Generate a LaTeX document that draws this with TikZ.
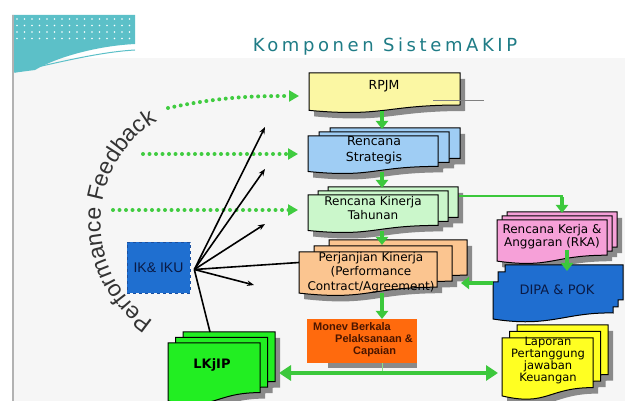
\documentclass[tikz,border=0pt]{standalone}
\usepackage{fontspec}
\setmainfont{Liberation Sans}
\newfontfamily\comic{DejaVu Sans}
\newfontfamily\titlefont[LetterSpace=20]{DejaVu Sans}
\usetikzlibrary{arrows.meta,decorations.text,calc}
\definecolor{rpjmyellow}{HTML}{FBF7A3}
\definecolor{rsblue}{HTML}{9FCDF4}
\definecolor{rktgreen}{HTML}{CBF7CB}
\definecolor{pkorange}{HTML}{FBC590}
\definecolor{monevorange}{HTML}{FF6A0D}
\definecolor{rkapink}{HTML}{F6A0D8}
\definecolor{dipablue}{HTML}{1F6ED0}
\definecolor{lapyellow}{HTML}{FFFF22}
\definecolor{lkgreen}{HTML}{22EE22}
\definecolor{ikblue}{HTML}{1F6FD0}
\definecolor{ikedge}{HTML}{1A4FA0}
\definecolor{dotgreen}{HTML}{40CC40}
\definecolor{arrgreen}{HTML}{3CC83C}
\definecolor{shadowgray}{HTML}{8A8A8A}
\definecolor{titleteal}{HTML}{1F7C86}
\definecolor{fbgray}{HTML}{333333}
\definecolor{navy}{HTML}{0A1A45}
\definecolor{monevtext}{HTML}{4A1500}
\definecolor{bggray}{HTML}{F6F6F6}
\definecolor{cornerteal}{HTML}{5CC0C8}
\newcommand\docfill[5]{\path[#5] ({#1},{#2}) -- ({#1+#3},{#2}) -- ({#1+#3},{#2+0.80*#4}) .. controls ({#1+0.5*#3},{#2+0.80*#4}) and ({#1+0.5*#3},{#2+1.107*#4}) .. ({#1},{#2+0.934*#4}) -- cycle;}
\newcommand\mdoc[7]{%
 \foreach \k in {2,1,0}{\docfill{#1+\k*#6+5}{#2-\k*#7+6}{#3}{#4}{fill=shadowgray}}%
 \foreach \k in {2,1,0}{\docfill{#1+\k*#6}{#2-\k*#7}{#3}{#4}{fill=#5,draw=black,line width=1}}%
}
\tikzset{
 box/.style={inner sep=0, outer sep=0, draw=none},
 comictxt/.style={font=\comic\fontsize{12}{14}\selectfont, align=center, inner sep=0, text=black},
 gdot/.style={draw=dotgreen, line width=4, line cap=round, dash pattern=on 0pt off 6.5pt, -{Triangle[length=10pt,width=11pt,fill=dotgreen]}, shorten >=10pt},
 garr/.style={draw=arrgreen, line width=4, -{Triangle[length=8pt,width=12pt]}},
 gbig/.style={draw=arrgreen, line width=4, {Triangle[length=12pt,width=15pt]}-{Triangle[length=12pt,width=15pt]}},
 gthin/.style={draw=arrgreen, line width=1.3},
 blk/.style={draw=black, line width=1.6, -{Stealth[length=7pt,width=5.5pt]}},
 blkline/.style={draw=black, line width=1.6}
}
\begin{document}
\begin{tikzpicture}[x=1pt,y=-1pt]
\useasboundingbox (0,0) rectangle (625,401);
\fill[white] (0,0) rectangle (625,401);
\fill[bggray] (13,58) rectangle (625,401);
% corner decoration
\fill[cornerteal] (12,15) -- (135,15) -- (135,44) .. controls (95,46) and (55,58) .. (35,70) -- (12,73) -- cycle;
\foreach \i in {0,...,15}{\foreach \j in {0,...,3}{\fill[white] ({17+\i*7.5},{19+\j*6.5}) circle (0.9);}}
\draw[cornerteal, line width=1] (15,72) .. controls (60,62) and (100,52) .. (135,50);
\draw[gray!60, line width=1.2] (13,15) -- (13,401);
% title
\node[font=\titlefont\fontsize{18}{20}\selectfont, text=titleteal, inner sep=0] (title) at (385,47) {Komponen SistemAKIP};
% performance feedback arc text
\begin{scope}[shift={(219.5,222.4)}, x=1pt, y=1pt]
 \path[decorate, decoration={text along path, text align=center, text color=fbgray, text={|\fontsize{23}{25}\selectfont|Performance Feedback}}] (240:119) arc[start angle=240, end angle=118, radius=119];
\end{scope}
% IK & IKU
\node[fill=ikblue, draw=ikedge, dashed, line width=0.6, minimum width=63, minimum height=51, inner sep=0, font=\fontsize{14}{16}\selectfont, text=navy] (ik) at (158.5,267.5) {IK\& IKU};
% documents
\docfill{314}{79}{151}{40}{fill=shadowgray}
\docfill{309}{73}{151}{40}{fill=rpjmyellow,draw=black,line width=1}
\node[box, minimum width=151, minimum height=38, anchor=north west] (rpjm) at (309,73) {};
\node[comictxt, font=\comic\fontsize{12.5}{14}\selectfont] (rpjm-t) at (384,86) {RPJM};
\draw[gray, line width=0.8] (433,100) -- (484,100);

\mdoc{308}{136}{130}{38}{rsblue}{11}{4}
\node[box, minimum width=130, minimum height=36, anchor=north west] (rs) at (308,136) {};
\node[comictxt, font=\comic\fontsize{12.5}{15.5}\selectfont] (rs-t) at (374,150) {Rencana\\Strategis};

\mdoc{308}{195}{130}{38}{rktgreen}{10}{4}
\node[box, minimum width=130, minimum height=36, anchor=north west] (rkt) at (308,195) {};
\node[comictxt, font=\comic\fontsize{12}{13.5}\selectfont] (rkt-t) at (373,208) {Rencana Kinerja\\Tahunan};

\mdoc{299}{252}{138}{44}{pkorange}{15}{6}
\node[box, minimum width=138, minimum height=41, anchor=north west] (pk) at (299,252) {};
\node[comictxt, font=\comic\fontsize{12}{14.5}\selectfont] (pk-t) at (371,272.5) {Perjanjian Kinerja\\(Performance\\Contract/Agreement)};

\fill[shadowgray] (328,324) rectangle (417,368);
\node[fill=monevorange, minimum width=110, minimum height=44, inner sep=0, anchor=north west] (monev) at (307,319) {};
\node[font=\bfseries\fontsize{11}{12.3}\selectfont, text=monevtext, align=left, inner sep=0, anchor=north west] (monev-t) at (313,322) {Monev Berkala\\\hspace*{22pt}Pelaksanaan \&\\\hspace*{40pt}Capaian};

\mdoc{497}{220}{110}{44}{rkapink}{5}{4}
\node[box, minimum width=110, minimum height=41, anchor=north west] (rka) at (497,220) {};
\node[comictxt, font=\comic\fontsize{12}{13}\selectfont] (rka-t) at (552,236.5) {Rencana Kerja \&\\Anggaran (RKA)};

\path[fill=dipablue, draw=black, line width=1] (505,265) -- (623,265) -- (623,300) -- (618,300) -- (618,307) -- (613,307) -- (613,313) .. controls (565,312) and (550,328) .. (493,319) -- (493,282) -- (498,282) -- (498,272) -- (505,272) -- cycle;
\node[box, minimum width=130, minimum height=55, anchor=north west] (dipa) at (493,265) {};
\node[comictxt, font=\comic\fontsize{13}{15}\selectfont, text=navy] (dipa-t) at (557,290) {DIPA \& POK};

\mdoc{502}{338}{91}{62}{lapyellow}{7.5}{6.5}
\node[box, minimum width=91, minimum height=58, anchor=north west] (lap) at (502,338) {};
\node[comictxt, font=\comic\fontsize{11.5}{12}\selectfont] (lap-t) at (548,361) {Laporan\\Pertanggung\\jawaban\\Keuangan};

\mdoc{168}{343}{92}{62}{lkgreen}{7.5}{5.5}
\node[box, minimum width=92, minimum height=58, anchor=north west] (lkjip) at (168,343) {};
\node[comictxt, font=\comic\bfseries\fontsize{13}{15}\selectfont] (lkjip-t) at (212,365) {LKjIP};

% feedback dotted arrows
\coordinate (fb1) at (168,108);
\coordinate (fb2) at (143,154);
\coordinate (fb3) at (113,210);
\draw[gdot] (fb1) to[out=12,in=180] ($(rpjm.west)+(0,4)$);
\draw[gdot] (fb2) -- (fb2 -| rs.west);
\draw[gdot] (fb3) -- (fb3 -| rkt.west);

% IK & IKU lines
\coordinate (hub) at ($(ik.east)+(4,2)$);
\coordinate (t1) at (265,127);
\coordinate (t2) at (265,169);
\coordinate (t3) at (265,224);
\coordinate (t5) at (254,285);
\draw[blk] (hub) -- (t1);
\draw[blk] (hub) -- (t2);
\draw[blk] (hub) -- (t3);
\draw[blk] (hub) -- (t5);
\draw[blkline] (hub) -- ($(pk.west)+(0,-10)$);
\draw[blkline] (hub) -- ($(lkjip.north)+(-4,-11)$);

% flow arrows
\coordinate (rs-in) at (382,129);
\coordinate (rkt-in) at (382,188);
\coordinate (pk-in) at (382,245);
\draw[garr] (rpjm.south -| rs-in) -- (rs-in);
\draw[garr] (rs.south -| rkt-in) -- (rkt-in);
\draw[garr] (rkt.south -| pk-in) -- (pk-in);
\draw[garr] (pk.south -| pk-in) -- (monev.north -| pk-in);
\coordinate (rka-in) at (562,213);
\draw[gthin] ($(rkt.north east)+(21,1)$) -| ($(rka-in)+(0,-14)$);
\draw[garr] ($(rka-in)+(0,-16)$) -- (rka-in);
\coordinate (dipa-in) at (567,271);
\draw[garr, shorten <=-11pt] (rka.south -| dipa-in) -- (dipa-in);
\coordinate (pk-r) at (461,283);
\draw[garr] (dipa.west |- pk-r) -- (pk-r);
% bottom bus
\coordinate (bus) at (382,373);
\coordinate (busL) at (279,373);
\coordinate (busR) at (498,373);
\draw[draw=arrgreen!60, line width=1] (monev.south -| bus) -- (bus);
\draw[gbig] (busL) -- (busR);
\end{tikzpicture}
\end{document}
